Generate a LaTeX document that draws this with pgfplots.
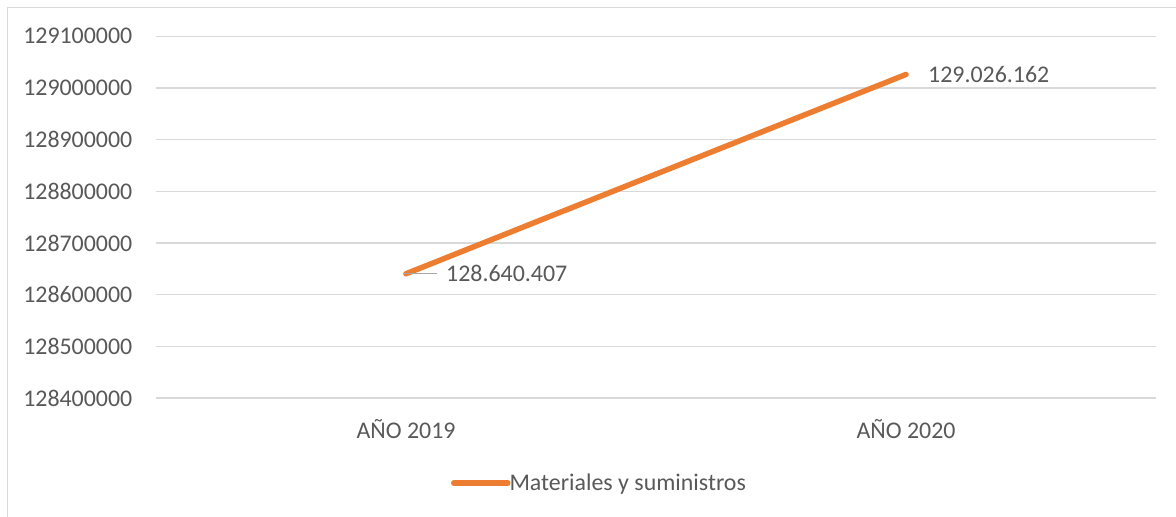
\documentclass[border=0pt]{standalone}
\usepackage{fontspec}
\setmainfont{Carlito}
\usepackage{pgfplots}
\pgfplotsset{compat=1.18}
\definecolor{txt}{HTML}{595959}
\definecolor{gridc}{HTML}{D9D9D9}
\definecolor{serie}{HTML}{ED7D31}
\definecolor{leader}{HTML}{A6A6A6}
\begin{document}
\begin{tikzpicture}[font=\fontsize{23.9bp}{28bp}\selectfont]
\useasboundingbox (0,0) rectangle (1176bp,517bp);
\fill[white] (0,0) rectangle (1176bp,517bp);
\draw[gridc, line width=1.2bp] (7.5bp,-5bp) -- (7.5bp,509.5bp) -- (1180bp,509.5bp);
\begin{axis}[
  at={(156bp,119bp)}, anchor=south west,
  scale only axis, width=1000bp, height=361.7bp,
  xmin=-0.5, xmax=1.5,
  ymin=128400000, ymax=129100000,
  xtick={0,1}, xticklabels={AÑO 2019, AÑO 2020},
  ytick={128400000,128500000,128600000,128700000,128800000,128900000,129000000,129100000},
  yticklabels={128400000,128500000,128600000,128700000,128800000,128900000,129000000,129100000},
  scaled y ticks=false,
  xmajorgrids=false, ymajorgrids=true,
  grid style={draw=gridc, line width=1.3bp},
  axis line style={draw=none},
  tick style={draw=none},
  major tick length=0pt,
  tick label style={text=txt},
  yticklabel style={anchor=east, inner sep=0pt, xshift=-23.5bp},
  xticklabel style={anchor=base, inner sep=0pt, yshift=-40bp},
  clip=false,
  legend style={at={(0.4425,-0.235)}, anchor=center, draw=none, fill=none,
    text=txt, inner sep=0pt, nodes={inner sep=0pt, text=txt}},
  legend cell align=left,
  legend image code/.code={\draw[#1, line cap=round] (0bp,0bp) -- (54bp,0bp);},
]
\addplot[serie, line width=5.5bp, line cap=round] coordinates {(0,128640407) (1,129026162)};
\addlegendentry{\hspace{-1bp}Materiales y suministros}
\addplot[draw=none, forget plot, nodes near coords, point meta=explicit symbolic,
  nodes near coords style={anchor=west, xshift=40bp, inner sep=0pt, text=txt,
    append after command={([xshift=-9bp]\tikzlastnode.west) edge[draw=leader, line width=1.3bp] ([xshift=-42bp]\tikzlastnode.west)}}]
  coordinates {(0,128640407) [128.640.407]};
\addplot[draw=none, forget plot, nodes near coords, point meta=explicit symbolic,
  nodes near coords style={anchor=west, xshift=22bp, inner sep=0pt, text=txt}]
  coordinates {(1,129026162) [129.026.162]};
\end{axis}
\end{tikzpicture}
\end{document}
